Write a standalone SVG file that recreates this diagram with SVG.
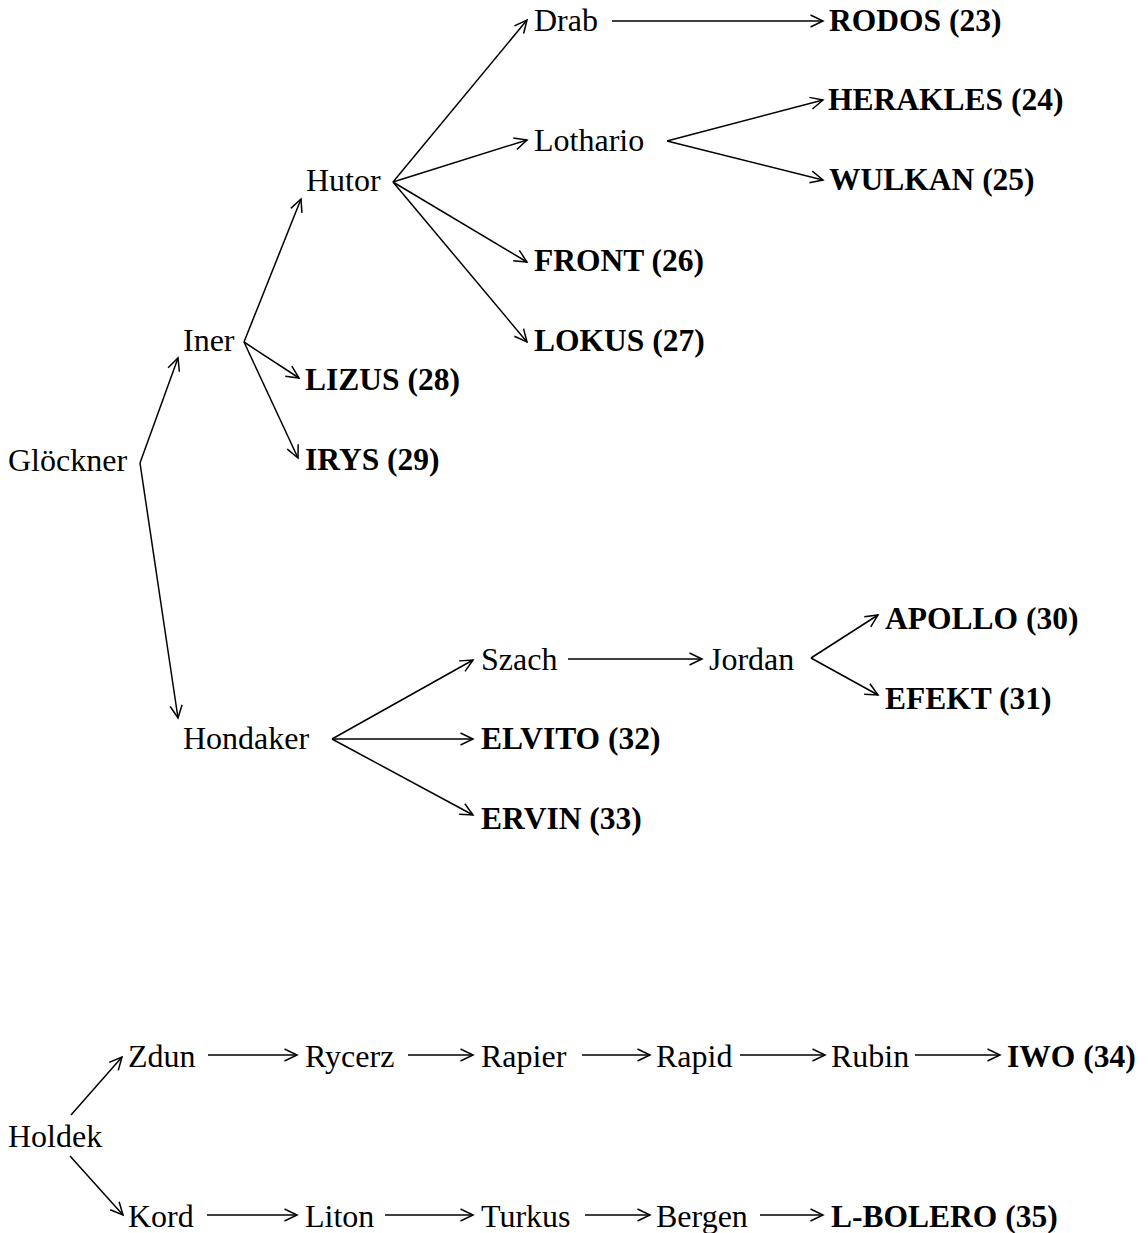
<svg xmlns="http://www.w3.org/2000/svg" width="1148" height="1233" viewBox="0 0 1148 1233">
<style>
text{font-family:"Liberation Serif","Times New Roman",serif;font-size:32px;fill:#000}
text.b{font-weight:bold;font-size:31.5px}
#edges line{stroke:#000;stroke-width:1.5;fill:none;marker-end:url(#ah)}
</style>
<defs>
<marker id="ah" markerUnits="userSpaceOnUse" markerWidth="24" markerHeight="24" refX="0" refY="0" orient="auto" overflow="visible">
<path d="M-12.5,-6 L0,0 L-12.5,6" fill="none" stroke="#000" stroke-width="1.5"/>
</marker>
</defs>
<rect width="1148" height="1233" fill="#fff"/>
<g id="edges">
<line x1="140" y1="463" x2="178" y2="358"/>
<line x1="140" y1="463" x2="178" y2="718"/>
<line x1="244" y1="342" x2="301" y2="199"/>
<line x1="244" y1="342" x2="299" y2="378"/>
<line x1="244" y1="342" x2="298" y2="458"/>
<line x1="393" y1="182" x2="527" y2="20"/>
<line x1="393" y1="182" x2="527" y2="140"/>
<line x1="393" y1="182" x2="527" y2="262"/>
<line x1="393" y1="182" x2="527" y2="342"/>
<line x1="612" y1="21" x2="823" y2="21"/>
<line x1="667" y1="141" x2="823" y2="100"/>
<line x1="667" y1="141" x2="823" y2="180"/>
<line x1="332" y1="739" x2="473" y2="660"/>
<line x1="332" y1="739" x2="473" y2="739"/>
<line x1="332" y1="739" x2="473" y2="815"/>
<line x1="568" y1="659" x2="702" y2="659"/>
<line x1="811" y1="658" x2="878" y2="615"/>
<line x1="811" y1="658" x2="878" y2="695"/>
<line x1="71" y1="1115" x2="122" y2="1057"/>
<line x1="70" y1="1156" x2="123" y2="1215"/>
<line x1="208" y1="1055" x2="297" y2="1055"/>
<line x1="408" y1="1055" x2="473" y2="1055"/>
<line x1="582" y1="1055" x2="650" y2="1055"/>
<line x1="740" y1="1055" x2="825" y2="1055"/>
<line x1="915" y1="1055" x2="1000" y2="1055"/>
<line x1="207" y1="1215" x2="297" y2="1215"/>
<line x1="385" y1="1215" x2="473" y2="1215"/>
<line x1="585" y1="1215" x2="650" y2="1215"/>
<line x1="760" y1="1215" x2="823" y2="1215"/>
</g>
<g id="n-glockner"><text x="8" y="471">Glöckner</text></g>
<g id="n-iner"><text x="183" y="351">Iner</text></g>
<g id="n-hutor"><text x="306" y="191">Hutor</text></g>
<g id="n-drab"><text x="534" y="31">Drab</text></g>
<g id="n-lothario"><text x="534" y="151">Lothario</text></g>
<g id="n-rodos"><text class="b" x="829" y="31">RODOS (23)</text></g>
<g id="n-herakles"><text class="b" x="828" y="110">HERAKLES (24)</text></g>
<g id="n-wulkan"><text class="b" x="829" y="190">WULKAN (25)</text></g>
<g id="n-front"><text class="b" x="534" y="271">FRONT (26)</text></g>
<g id="n-lokus"><text class="b" x="534" y="351">LOKUS (27)</text></g>
<g id="n-lizus"><text class="b" x="305" y="390">LIZUS (28)</text></g>
<g id="n-irys"><text class="b" x="305" y="470">IRYS (29)</text></g>
<g id="n-hondaker"><text x="183" y="749">Hondaker</text></g>
<g id="n-szach"><text x="481" y="670">Szach</text></g>
<g id="n-jordan"><text x="709" y="670">Jordan</text></g>
<g id="n-apollo"><text class="b" x="885" y="629">APOLLO (30)</text></g>
<g id="n-efekt"><text class="b" x="885" y="709">EFEKT (31)</text></g>
<g id="n-elvito"><text class="b" x="481" y="749">ELVITO (32)</text></g>
<g id="n-ervin"><text class="b" x="481" y="829">ERVIN (33)</text></g>
<g id="n-holdek"><text x="8" y="1147">Holdek</text></g>
<g id="n-zdun"><text x="128" y="1067">Zdun</text></g>
<g id="n-rycerz"><text x="305" y="1067">Rycerz</text></g>
<g id="n-rapier"><text x="481" y="1067">Rapier</text></g>
<g id="n-rapid"><text x="656" y="1067">Rapid</text></g>
<g id="n-rubin"><text x="831" y="1067">Rubin</text></g>
<g id="n-iwo"><text class="b" x="1007" y="1067">IWO (34)</text></g>
<g id="n-kord"><text x="128" y="1227">Kord</text></g>
<g id="n-liton"><text x="305" y="1227">Liton</text></g>
<g id="n-turkus"><text x="481" y="1227">Turkus</text></g>
<g id="n-bergen"><text x="656" y="1227">Bergen</text></g>
<g id="n-lbolero"><text class="b" x="831" y="1227">L-BOLERO (35)</text></g>
</svg>
